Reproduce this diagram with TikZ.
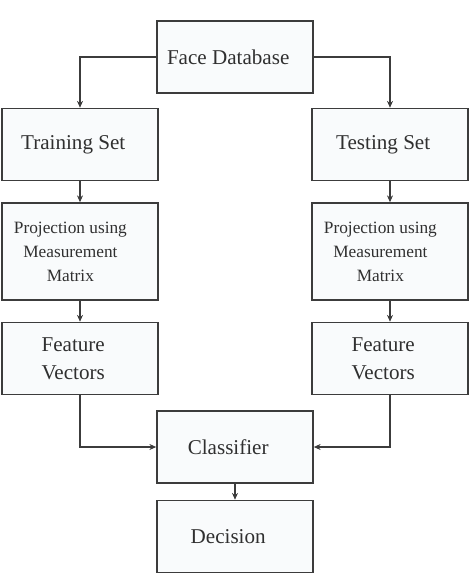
\documentclass[tikz,border=0pt]{standalone}
\usepackage{fontspec}
\setmainfont{Liberation Serif}
\usetikzlibrary{arrows.meta}

\definecolor{edge}{HTML}{3C3C3C}
\definecolor{boxfill}{HTML}{F9FBFC}
\definecolor{ink}{HTML}{303030}

\begin{document}
\begin{tikzpicture}[x=0.025cm, y=-0.025cm,
	> = {Stealth[length=0.17cm,width=0.15cm]}, % arrow head style
	block/.style={draw=edge, fill=boxfill, line width=1.1pt,
		minimum width=3.9cm, minimum height=1.8cm},
	tall/.style={minimum height=2.425cm},
	txt/.style={text=ink, align=center, xshift=-0.17cm,
		font=\fontsize{15}{20}\selectfont},
	small/.style={xshift=-0.07cm, font=\fontsize{12.3}{17}\selectfont}, % adds to txt shift
	conn/.style={->, draw=edge, line width=1.1pt}]
	\useasboundingbox (0,0) rectangle (472,574);
	% boxes
	\node[block, label={[txt]center:Face Database}] (face) at (235,57) {};
	\node[block, label={[txt]center:Training Set}] (train) at (80,144.5) {};
	\node[block, label={[txt]center:Testing Set}] (test) at (390,144.5) {};
	\node[block, tall, label={[txt,small]center:Projection using\\Measurement\\Matrix}] (proj1) at (80,251.5) {};
	\node[block, tall, label={[txt,small]center:Projection using\\Measurement\\Matrix}] (proj2) at (390,251.5) {};
	\node[block, label={[txt]center:Feature\\Vectors}] (feat1) at (80,358.5) {};
	\node[block, label={[txt]center:Feature\\Vectors}] (feat2) at (390,358.5) {};
	\node[block, label={[txt]center:Classifier}] (clf) at (235,447) {};
	\node[block, label={[txt]center:Decision}] (dec) at (235,536.5) {};
	% arrows
	\draw[conn] (face.west) -| (train.north);
	\draw[conn] (face.east) -| (test.north);
	\draw[conn] (train) -- (proj1);
	\draw[conn] (test) -- (proj2);
	\draw[conn] (proj1) -- (feat1);
	\draw[conn] (proj2) -- (feat2);
	\draw[conn] (feat1.south) |- (clf.west);
	\draw[conn] (feat2.south) |- (clf.east);
	\draw[conn] (clf) -- (dec);
\end{tikzpicture}
\end{document}
